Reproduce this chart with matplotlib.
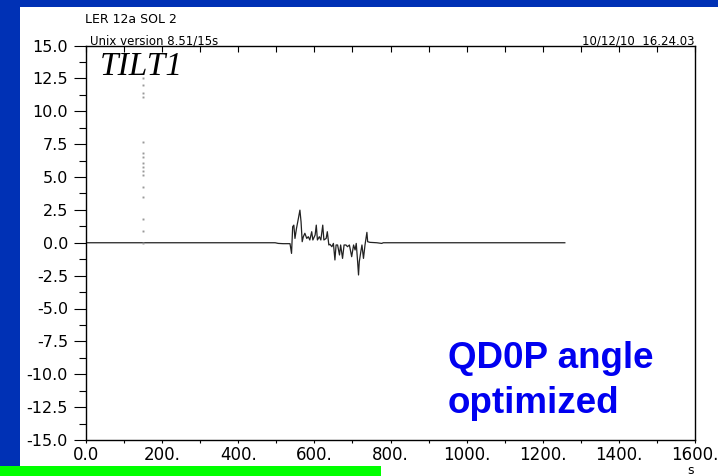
import numpy as np
import matplotlib.pyplot as plt
from matplotlib.patches import Rectangle
from matplotlib.ticker import MultipleLocator

plt.rcParams['axes.unicode_minus'] = False

# TILT1 trace (time in s, value)
trace_t = [0, 497, 505, 518, 536, 540, 543, 546, 549, 553, 558, 562, 565, 568,
           571, 575, 580, 584, 588, 593, 596, 602, 605, 608, 613, 617, 622, 625,
           631, 634, 638, 641, 646, 650, 654, 657, 661, 666, 669, 674, 678, 683,
           687, 692, 698, 703, 707, 710, 713, 716, 718, 722, 725, 729, 733, 738,
           740, 746, 764, 777, 781, 1258]
trace_v = [0.0, 0.0, -0.05, -0.07, -0.07, -0.81, 1.22, 1.34, 0.33, 1.09, 1.85, 2.48, 1.59, 0.08,
           0.46, 0.72, 0.33, 0.46, 0.21, 0.84, 0.21, 0.59, 1.34, 0.21, 0.46, 0.21, 1.34, 0.21,
           0.33, 0.84, -0.17, -0.12, -0.30, -0.05, -1.31, -0.17, -0.17, -0.93, -0.17, -1.19, -0.17, -0.17,
           -0.30, -0.17, -1.06, -0.17, -0.55, -0.05, -1.19, -2.45, -1.44, -0.68, -0.17, -1.19, -0.17, 0.79,
           0.08, 0.03, 0.0, -0.05, 0.0, 0.0]

# isolated samples at t = 150 s
spike_t = 150
spike_v = [12.5, 11.96, 11.36, 11.05, 7.63, 6.8, 6.5, 6.04, 5.73, 5.43, 5.13,
           4.21, 3.45, 1.78, 0.87, 0.0]

x_ticks = [0, 200, 400, 600, 800, 1000, 1200, 1400, 1600]
x_labels = ['0.0', '200.', '400.', '600.', '800.', '1000.', '1200.', '1400.', '1600.']
y_ticks = np.arange(-15, 15.1, 2.5)

W, H = 718, 476
fig = plt.figure(figsize=(W / 100, H / 100), dpi=100, facecolor='#0031B5')

# slide background: white panel and green bar
fig.patches.append(Rectangle((20 / W, 0), 1 - 20 / W, 1 - 7 / H, transform=fig.transFigure,
                             facecolor='white', edgecolor='none', zorder=0))
fig.patches.append(Rectangle((0, 0), 381 / W, 10 / H, transform=fig.transFigure,
                             facecolor='#00FF00', edgecolor='none', zorder=1))

ax = fig.add_axes([86 / W, 1 - 440 / H, (695 - 86) / W, (440 - 45.5) / H])
ax.set_zorder(5)
ax.set_facecolor('white')

ax.plot(trace_t, trace_v, color='#222222', linewidth=0.9)
ax.plot([spike_t] * len(spike_v), spike_v, linestyle='none', marker='s',
        markersize=1.4, color='#999999', markeredgewidth=0)

ax.set_xlim(0, 1600)
ax.set_ylim(-15, 15)

ax.set_xticks(x_ticks)
ax.set_xticklabels(x_labels, fontsize=12, family='DejaVu Sans')
ax.xaxis.set_minor_locator(MultipleLocator(100))
ax.set_yticks(y_ticks)
ax.set_yticklabels(['%.1f' % v for v in y_ticks], fontsize=11.5, family='DejaVu Sans')
ax.yaxis.set_minor_locator(MultipleLocator(1.25))

ax.tick_params(axis='y', which='major', direction='out', length=9, width=0.8, pad=4)
ax.tick_params(axis='y', which='minor', direction='out', length=5, width=0.8)
ax.tick_params(axis='x', which='both', direction='out', length=2.5, width=0.8, pad=2,
               top=True)
for sp in ax.spines.values():
    sp.set_linewidth(1.0)
    sp.set_color('black')

# top axis ticks point inward
for t in ax.xaxis.get_major_ticks() + ax.xaxis.get_minor_ticks():
    t.tick2line.set_marker(3)
    t.tick2line.set_markersize(4)

fig.text(85 / W, 1 - 23 / H, 'LER 12a SOL 2', fontsize=9, family='DejaVu Sans',
         va='baseline', ha='left')
fig.text(90 / W, 1 - 44 / H, 'Unix version 8.51/15s', fontsize=8.5, family='DejaVu Sans',
         va='baseline', ha='left', zorder=6)
fig.text(694 / W, 1 - 44 / H, '10/12/10  16.24.03', fontsize=8.5, family='DejaVu Sans',
         va='baseline', ha='right', zorder=6)
fig.text(100 / W, 1 - 75 / H, 'TILT1', fontsize=24, family='Liberation Serif',
         style='italic', va='baseline', ha='left', zorder=6)
fig.text(691 / W, 1 - 474 / H, 's', fontsize=9, family='DejaVu Sans',
         va='baseline', ha='center')

fig.text(448 / W, 1 - 368 / H, 'QD0P angle', fontsize=26.5, family='Liberation Sans',
         weight='bold', color='#0000F0', va='baseline', ha='left', zorder=6)
fig.text(448 / W, 1 - 413 / H, 'optimized', fontsize=26.5, family='Liberation Sans',
         weight='bold', color='#0000F0', va='baseline', ha='left', zorder=6)

fig.savefig('out.png', dpi=100, facecolor=fig.get_facecolor())
